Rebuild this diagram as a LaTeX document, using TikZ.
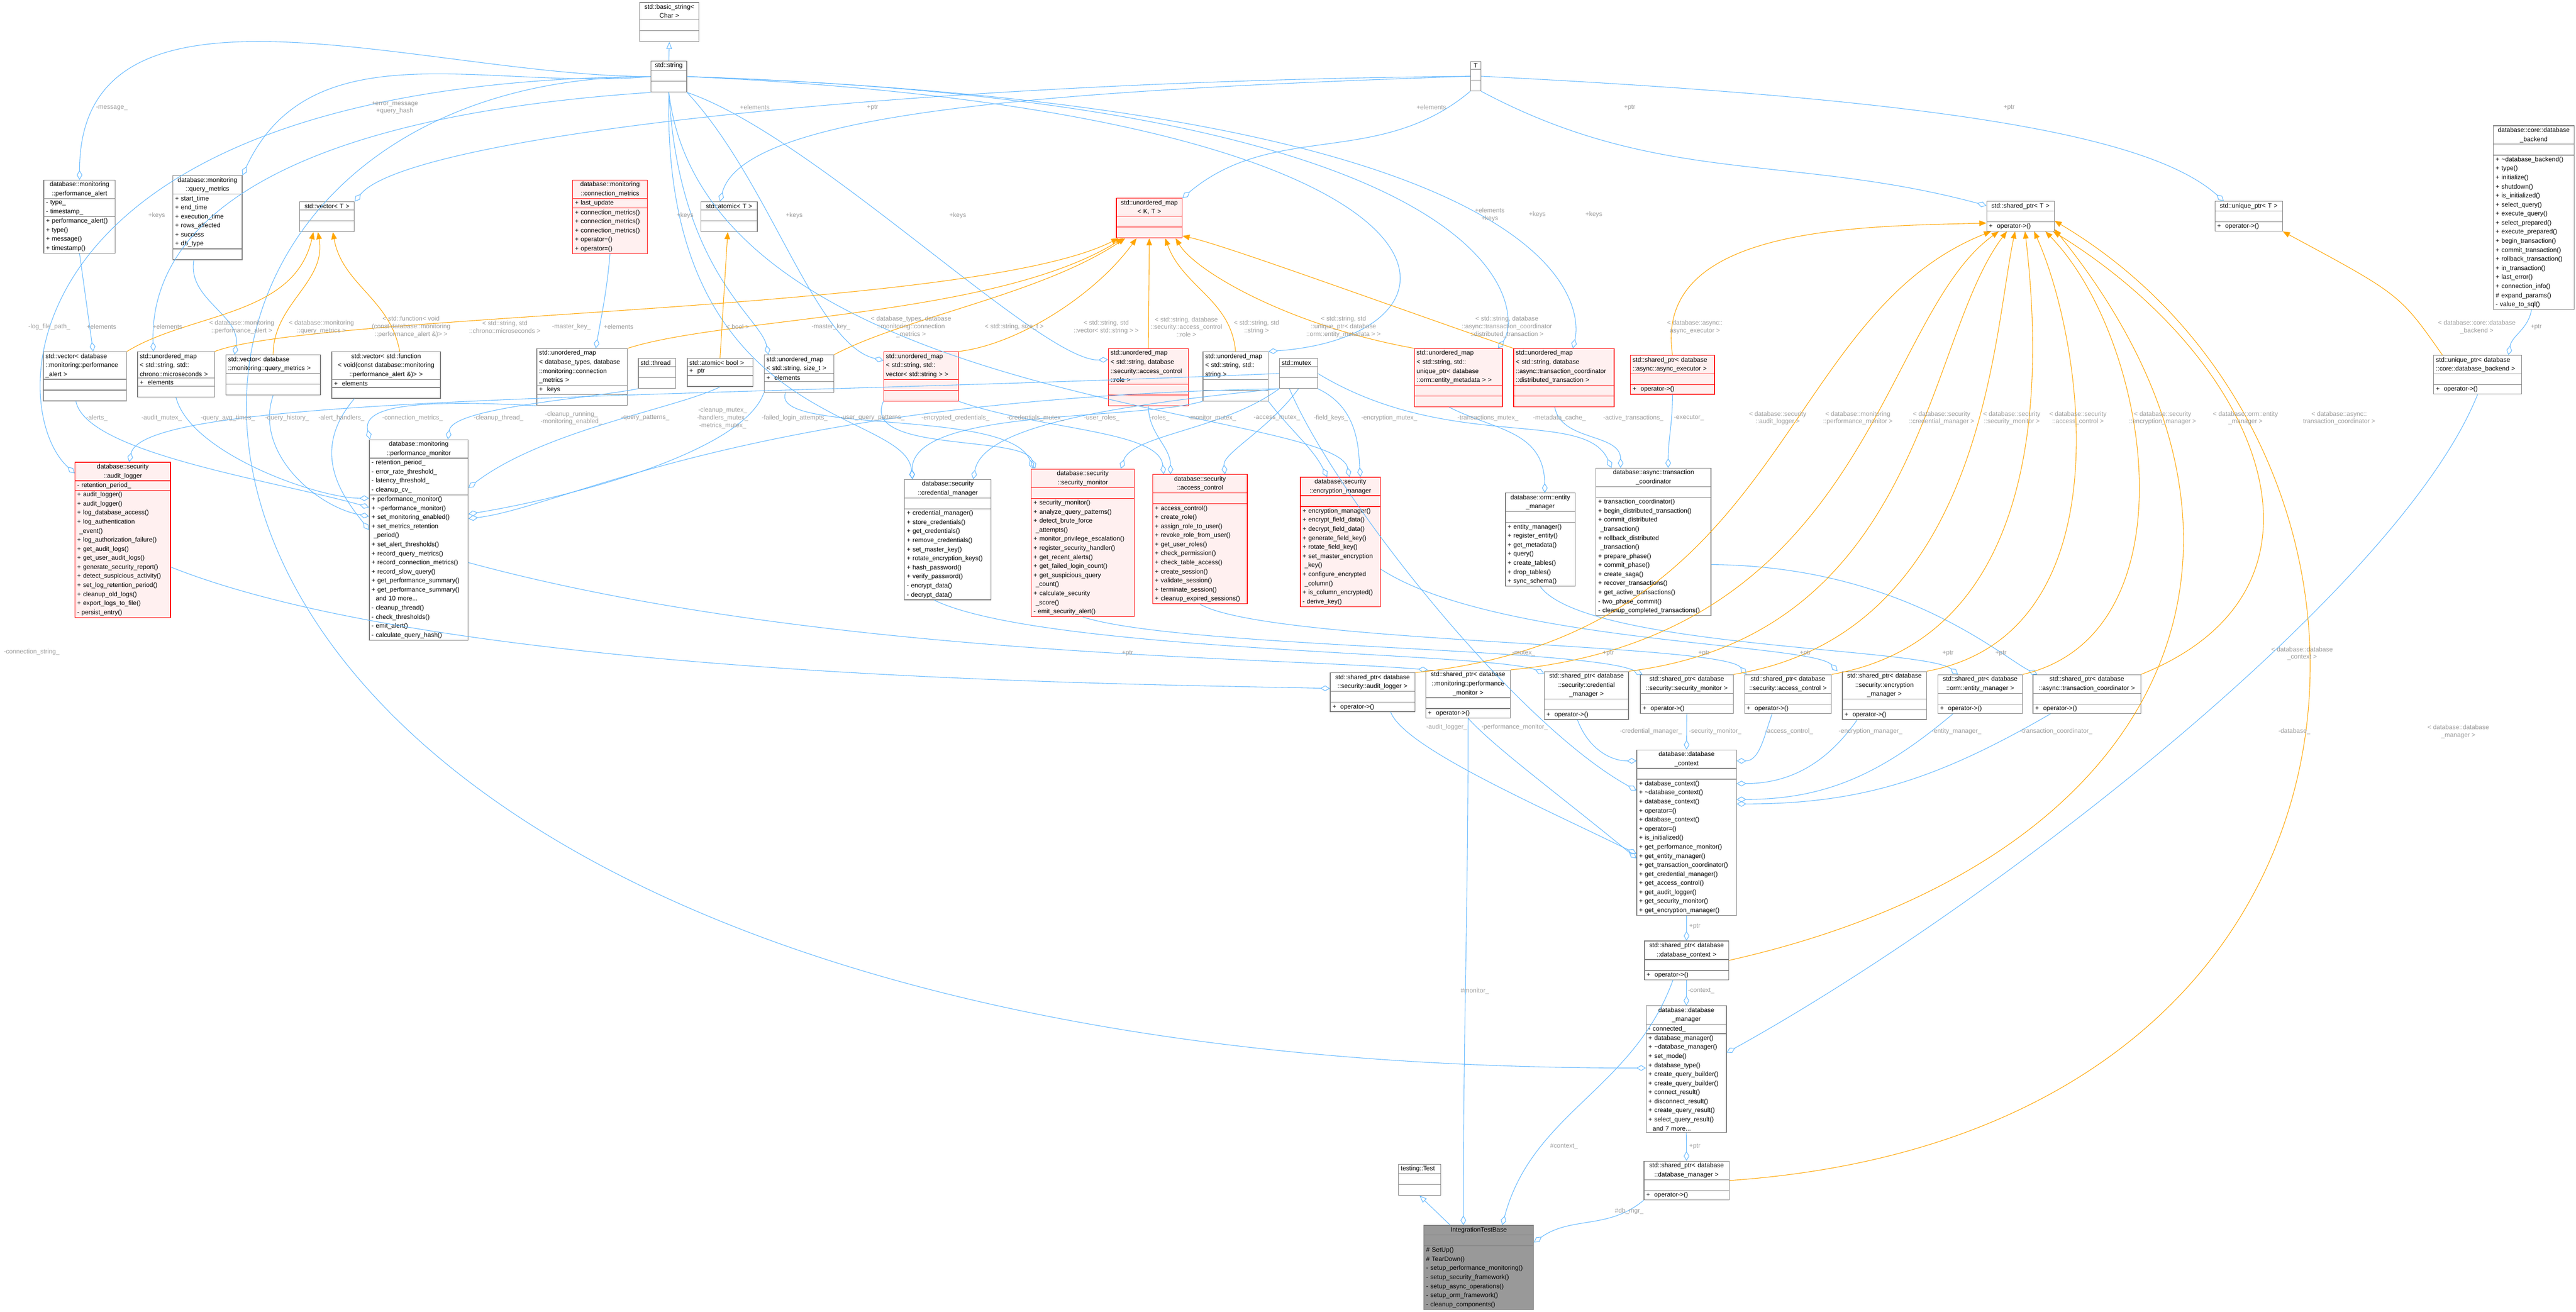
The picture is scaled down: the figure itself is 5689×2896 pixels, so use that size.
\documentclass[tikz,border=0pt]{standalone}
\usepackage{fontspec}
\setmainfont{Liberation Sans}
\usetikzlibrary{shapes.multipart,arrows.meta}
\definecolor{edgeblue}{HTML}{63B8FF}
\definecolor{edgeorange}{HTML}{FFA500}
\definecolor{boxgrey}{HTML}{808080}
\definecolor{lblgrey}{HTML}{9A9A9A}
\definecolor{redfill}{HTML}{FFF0F0}
\newcommand\nil{\rule{0pt}{4.6pt}}
\tikzset{
  cls/.style={rectangle split, rectangle split parts=3, draw=boxgrey, fill=white,
    anchor=north west, inner xsep=1.4pt, inner ysep=0.9pt, line width=0.4pt,
    font=\fontsize{4}{5.69}\selectfont},
  redcls/.style={cls, draw=red, fill=redfill},
  basecls/.style={cls, fill=black!40},
  uses/.style={draw=edgeblue, line width=0.35pt, -{Diamond[open,length=6pt,width=3.5pt]}},
  tmpl/.style={draw=edgeorange, line width=0.35pt, -{Triangle[length=4.5pt,width=3.5pt]}},
  isa/.style={draw=edgeblue, line width=0.35pt, -{Triangle[open,length=4.5pt,width=3.5pt]}},
  lbl/.style={text=lblgrey, font=\fontsize{4}{4.8}\selectfont, align=center, inner sep=0pt},
}
\begin{document}
\begin{tikzpicture}[x=0.01cm, y=0.01cm]
\useasboundingbox (0,0) rectangle (5689,-2896);

% std / template classes
\node[cls, text width=1.21cm] (basicstr) at (1412,-5) {\centering std::basic\_string<\\Char >\par\nodepart{two}\nil\nodepart{three}\nil};
\node[cls, text width=0.69cm] (string) at (1437,-134) {\centering std::string\par\nodepart{two}\nil\nodepart{three}\nil};
\node[cls, text width=0.13cm] (T) at (3247,-135) {\centering T\par\nodepart{two}\nil\nodepart{three}\nil};
\node[cls, text width=1.11cm] (vectorT) at (661,-445) {\centering std::vector< T >\par\nodepart{two}\nil\nodepart{three}\nil};
\node[cls, text width=1.15cm] (atomicT) at (1547,-445) {\centering std::atomic< T >\par\nodepart{two}\nil\nodepart{three}\nil};
\node[redcls, text width=1.35cm] (umapKT) at (2465,-437) {\centering std::unordered\_map\\< K, T >\par\nodepart{two}\nil\nodepart{three}\nil};
\node[cls, text width=1.39cm] (sharedT) at (4387,-444) {\centering std::shared\_ptr< T >\par\nodepart{two}\nil\nodepart{three}+ \ operator->()};
\node[cls, text width=1.39cm] (uniqueT) at (4891,-444) {\centering std::unique\_ptr< T >\par\nodepart{two}\nil\nodepart{three}+ \ operator->()};
\node[cls, text width=1.68cm] (backend) at (5506,-277) {\centering database::core::database\\\_backend\par\nodepart{two}\nil\nodepart{three}+ \textasciitilde database\_backend()\\+ type()\\+ initialize()\\+ shutdown()\\+ is\_initialized()\\+ select\_query()\\+ execute\_query()\\+ select\_prepared()\\+ execute\_prepared()\\+ begin\_transaction()\\+ commit\_transaction()\\+ rollback\_transaction()\\+ in\_transaction()\\+ last\_error()\\+ connection\_info()\\\# expand\_params()\\- value\_to\_sql()};

% monitoring data
\node[cls, text width=1.48cm] (perfalert) at (96,-397) {\centering database::monitoring\\::performance\_alert\par\nodepart{two}- type\_\\- timestamp\_\nodepart{three}+ performance\_alert()\\+ type()\\+ message()\\+ timestamp()};
\node[cls, text width=1.43cm] (qmetrics) at (381,-387) {\centering database::monitoring\\::query\_metrics\par\nodepart{two}+ start\_time\\+ end\_time\\+ execution\_time\\+ rows\_affected\\+ success\\+ db\_type\nodepart{three}\nil};
\node[redcls, text width=1.55cm] (connmetrics) at (1264,-397) {\centering database::monitoring\\::connection\_metrics\par\nodepart{two}+ last\_update\nodepart{three}+ connection\_metrics()\\+ connection\_metrics()\\+ connection\_metrics()\\+ operator=()\\+ operator=()};

% containers
\node[cls, text width=1.74cm] (vecalert) at (95,-776) {std::vector< database\\::monitoring::performance\\\_alert >\nodepart{two}\nil\nodepart{three}\nil};
\node[cls, text width=1.60cm] (umapchrono) at (303,-776) {std::unordered\_map\\< std::string, std::\\chrono::microseconds >\nodepart{two}+ \ elements\nodepart{three}\nil};
\node[cls, text width=1.99cm] (vecqm) at (498,-783) {std::vector< database\\::monitoring::query\_metrics >\nodepart{two}\nil\nodepart{three}\nil};
\node[cls, text width=2.30cm] (vecfunc) at (732,-776) {\centering std::vector< std::function\\< void(const database::monitoring\\::performance\_alert \&)> >\par\nodepart{two}+ \ elements\nodepart{three}\nil};
\node[cls, text width=1.90cm] (umapconn) at (1185,-769) {std::unordered\_map\\< database\_types, database\\::monitoring::connection\\\_metrics >\nodepart{two}+ \ keys\nodepart{three}\nil};
\node[cls, text width=0.73cm] (thread) at (1409,-791) {std::thread\nodepart{two}\nil\nodepart{three}\nil};
\node[cls, text width=1.35cm] (atomicbool) at (1517,-791) {std::atomic< bool >\nodepart{two}+ \ ptr\nodepart{three}\nil};
\node[cls, text width=1.44cm] (umapsize) at (1687,-783) {std::unordered\_map\\< std::string, size\_t >\nodepart{two}+ \ elements\nodepart{three}\nil};
\node[redcls, text width=1.55cm] (umapvec) at (1951,-776) {std::unordered\_map\\< std::string, std::\\vector< std::string > >\nodepart{two}\nil\nodepart{three}\nil};
\node[redcls, text width=1.67cm] (umaprole) at (2447,-769) {std::unordered\_map\\< std::string, database\\::security::access\_control\\::role >\nodepart{two}\nil\nodepart{three}\nil};
\node[cls, text width=1.34cm] (umapstr) at (2656,-776) {std::unordered\_map\\< std::string, std::\\string >\nodepart{two}\nil\nodepart{three}\nil};
\node[cls, text width=0.74cm] (mutex) at (2825,-791) {std::mutex\nodepart{two}\nil\nodepart{three}\nil};
\node[redcls, text width=1.84cm] (umapentity) at (3123,-769) {std::unordered\_map\\< std::string, std::\\unique\_ptr< database\\::orm::entity\_metadata > >\nodepart{two}\nil\nodepart{three}\nil};
\node[redcls, text width=2.12cm] (umapdist) at (3342,-769) {std::unordered\_map\\< std::string, database\\::async::transaction\_coordinator\\::distributed\_transaction >\nodepart{two}\nil\nodepart{three}\nil};
\node[redcls, text width=1.76cm] (spexec) at (3600,-784) {std::shared\_ptr< database\\::async::async\_executor >\nodepart{two}\nil\nodepart{three}+ \ operator->()};
\node[cls, text width=1.84cm] (upbackend) at (5374,-784) {std::unique\_ptr< database\\::core::database\_backend >\nodepart{two}\nil\nodepart{three}+ \ operator->()};

% components
\node[redcls, text width=2.01cm] (auditlog) at (165,-1020) {\centering database::security\\::audit\_logger\par\nodepart{two}- retention\_period\_\nodepart{three}+ audit\_logger()\\+ audit\_logger()\\+ log\_database\_access()\\+ log\_authentication\\\ \_event()\\+ log\_authorization\_failure()\\+ get\_audit\_logs()\\+ get\_user\_audit\_logs()\\+ generate\_security\_report()\\+ detect\_suspicious\_activity()\\+ set\_log\_retention\_period()\\+ cleanup\_old\_logs()\\+ export\_logs\_to\_file()\\- persist\_entry()};
\node[cls, text width=2.08cm] (perfmon) at (815,-970) {\centering database::monitoring\\::performance\_monitor\par\nodepart{two}- retention\_period\_\\- error\_rate\_threshold\_\\- latency\_threshold\_\\- cleanup\_cv\_\nodepart{three}+ performance\_monitor()\\+ \textasciitilde performance\_monitor()\\+ set\_monitoring\_enabled()\\+ set\_metrics\_retention\\\ \_period()\\+ set\_alert\_thresholds()\\+ record\_query\_metrics()\\+ record\_connection\_metrics()\\+ record\_slow\_query()\\+ get\_performance\_summary()\\+ get\_performance\_summary()\\\ \ and 10 more...\\- cleanup\_thread()\\- check\_thresholds()\\- emit\_alert()\\- calculate\_query\_hash()};
\node[cls, text width=1.81cm] (credmgr) at (1997,-1058) {\centering database::security\\::credential\_manager\par\nodepart{two}\nil\nodepart{three}+ credential\_manager()\\+ store\_credentials()\\+ get\_credentials()\\+ remove\_credentials()\\+ set\_master\_key()\\+ rotate\_encryption\_keys()\\+ hash\_password()\\+ verify\_password()\\- encrypt\_data()\\- decrypt\_data()};
\node[redcls, text width=2.17cm] (secmon) at (2277,-1035) {\centering database::security\\::security\_monitor\par\nodepart{two}\nil\nodepart{three}+ security\_monitor()\\+ analyze\_query\_patterns()\\+ detect\_brute\_force\\\ \_attempts()\\+ monitor\_privilege\_escalation()\\+ register\_security\_handler()\\+ get\_recent\_alerts()\\+ get\_failed\_login\_count()\\+ get\_suspicious\_query\\\ \_count()\\+ calculate\_security\\\ \_score()\\- emit\_security\_alert()};
\node[redcls, text width=1.99cm] (acl) at (2545,-1047) {\centering database::security\\::access\_control\par\nodepart{two}\nil\nodepart{three}+ access\_control()\\+ create\_role()\\+ assign\_role\_to\_user()\\+ revoke\_role\_from\_user()\\+ get\_user\_roles()\\+ check\_permission()\\+ check\_table\_access()\\+ create\_session()\\+ validate\_session()\\+ terminate\_session()\\+ cleanup\_expired\_sessions()};
\node[redcls, text width=1.67cm] (encmgr) at (2871,-1053) {\centering database::security\\::encryption\_manager\par\nodepart{two}\nil\nodepart{three}+ encryption\_manager()\\+ encrypt\_field\_data()\\+ decrypt\_field\_data()\\+ generate\_field\_key()\\+ rotate\_field\_key()\\+ set\_master\_encryption\\\ \_key()\\+ configure\_encrypted\\\ \_column()\\+ is\_column\_encrypted()\\- derive\_key()};
\node[cls, text width=1.44cm] (entmgr) at (3324,-1088) {\centering database::orm::entity\\\_manager\par\nodepart{two}\nil\nodepart{three}+ entity\_manager()\\+ register\_entity()\\+ get\_metadata()\\+ query()\\+ create\_tables()\\+ drop\_tables()\\+ sync\_schema()};
\node[cls, text width=2.44cm] (txcoord) at (3524,-1033) {\centering database::async::transaction\\\_coordinator\par\nodepart{two}\nil\nodepart{three}+ transaction\_coordinator()\\+ begin\_distributed\_transaction()\\+ commit\_distributed\\\ \_transaction()\\+ rollback\_distributed\\\ \_transaction()\\+ prepare\_phase()\\+ commit\_phase()\\+ create\_saga()\\+ recover\_transactions()\\+ get\_active\_transactions()\\- two\_phase\_commit()\\- cleanup\_completed\_transactions()};

% shared pointers
\node[cls, text width=1.77cm] (spaudit) at (2937,-1485) {\centering std::shared\_ptr< database\\::security::audit\_logger >\par\nodepart{two}\nil\nodepart{three}+ \ operator->()};
\node[cls, text width=1.77cm] (spperf) at (3148,-1479) {\centering std::shared\_ptr< database\\::monitoring::performance\\\_monitor >\par\nodepart{two}\nil\nodepart{three}+ \ operator->()};
\node[cls, text width=1.76cm] (spcred) at (3410,-1482) {\centering std::shared\_ptr< database\\::security::credential\\\_manager >\par\nodepart{two}\nil\nodepart{three}+ \ operator->()};
\node[cls, text width=1.95cm] (spsecmon) at (3622,-1489) {\centering std::shared\_ptr< database\\::security::security\_monitor >\par\nodepart{two}\nil\nodepart{three}+ \ operator->()};
\node[cls, text width=1.82cm] (spacl) at (3852,-1489) {\centering std::shared\_ptr< database\\::security::access\_control >\par\nodepart{two}\nil\nodepart{three}+ \ operator->()};
\node[cls, text width=1.76cm] (spenc) at (4068,-1482) {\centering std::shared\_ptr< database\\::security::encryption\\\_manager >\par\nodepart{two}\nil\nodepart{three}+ \ operator->()};
\node[cls, text width=1.77cm] (spent) at (4279,-1489) {\centering std::shared\_ptr< database\\::orm::entity\_manager >\par\nodepart{two}\nil\nodepart{three}+ \ operator->()};
\node[cls, text width=2.28cm] (sptx) at (4489,-1489) {\centering std::shared\_ptr< database\\::async::transaction\_coordinator >\par\nodepart{two}\nil\nodepart{three}+ \ operator->()};

% context / manager / test
\node[cls, text width=2.10cm] (dbctx) at (3614,-1655) {\centering database::database\\\_context\par\nodepart{two}\nil\nodepart{three}+ database\_context()\\+ \textasciitilde database\_context()\\+ database\_context()\\+ operator=()\\+ database\_context()\\+ operator=()\\+ is\_initialized()\\+ get\_performance\_monitor()\\+ get\_entity\_manager()\\+ get\_transaction\_coordinator()\\+ get\_credential\_manager()\\+ get\_access\_control()\\+ get\_audit\_logger()\\+ get\_security\_monitor()\\+ get\_encryption\_manager()};
\node[cls, text width=1.76cm] (spctx) at (3631,-2077) {\centering std::shared\_ptr< database\\::database\_context >\par\nodepart{two}\nil\nodepart{three}+ \ operator->()};
\node[cls, text width=1.67cm] (dbmgr) at (3635,-2220) {\centering database::database\\\_manager\par\nodepart{two}- connected\_\nodepart{three}+ database\_manager()\\+ \textasciitilde database\_manager()\\+ set\_mode()\\+ database\_type()\\+ create\_query\_builder()\\+ create\_query\_builder()\\+ connect\_result()\\+ disconnect\_result()\\+ create\_query\_result()\\+ select\_query\_result()\\\ \ and 7 more...};
\node[cls, text width=1.78cm] (spdbmgr) at (3630,-2563) {\centering std::shared\_ptr< database\\::database\_manager >\par\nodepart{two}\nil\nodepart{three}+ \ operator->()};
\node[cls, text width=0.83cm] (test) at (3088,-2570) {testing::Test\nodepart{two}\nil\nodepart{three}\nil};
\node[basecls, text width=2.32cm] (itb) at (3144,-2705) {\centering IntegrationTestBase\par\nodepart{two}\nil\nodepart{three}\# SetUp()\\\# TearDown()\\- setup\_performance\_monitoring()\\- setup\_security\_framework()\\- setup\_async\_operations()\\- setup\_orm\_framework()\\- cleanup\_components()};

% inheritance
\draw[isa] (string.north) -- (basicstr.south);
\draw[isa] ([xshift=-0.63cm]itb.north) -- (test.south);

% members
\draw[uses] (string.west) to[out=180,in=90] (perfalert.north);
\draw[uses] (string.west) to[out=185,in=65] (qmetrics.north east);
\draw[uses] (string.west) .. controls (5,-180) and (5,-900) .. ([yshift=-0.25cm]auditlog.north west);
\draw[uses] (string.west) .. controls (5,-170) and (5,-2360) .. ([yshift=-1.38cm]dbmgr.north west);
\draw[uses] (string.south west) .. controls (600,-260) and (330,-500) .. ([xshift=-0.5cm]umapchrono.north);
\draw[uses] (string.south) .. controls (1500,-600) and (1680,-700) .. ([xshift=0.1cm]umapsize.north west);
\draw[uses] (string.south east) .. controls (1800,-300) and (2300,-800) .. ([yshift=-0.25cm]umaprole.north west);
\draw[uses] (string.south east) .. controls (1700,-400) and (1800,-760) .. ([yshift=-0.2cm]umapvec.north west);
\draw[uses] (string.east) .. controls (3300,-250) and (3300,-740) .. (umapstr.north east);
\draw[uses] (string.east) .. controls (3380,-230) and (3360,-700) .. ([xshift=-0.1cm]umapentity.north east);
\draw[uses] (string.east) .. controls (3530,-240) and (3490,-700) .. ([xshift=0.2cm]umapdist.north);
\draw[uses] (string.south) .. controls (1460,-950) and (2000,-900) .. ([xshift=0.18cm]credmgr.north west);
\draw[uses] (string.south) .. controls (1560,-900) and (2950,-900) .. ([xshift=0.2cm]encmgr.north);
\draw[uses] (T.west) .. controls (2000,-180) and (900,-300) .. (vectorT.north east);
\draw[uses] (T.west) .. controls (2300,-200) and (1640,-250) .. ([xshift=-0.2cm]atomicT.north);
\draw[uses] (T.south west) to[out=-140,in=40] (umapKT.north east);
\draw[uses] (T.south east) to[out=-28,in=165] ([yshift=-0.1cm]sharedT.north west);
\draw[uses] (T.east) .. controls (4300,-220) and (4750,-300) .. ([xshift=-0.55cm]uniqueT.north);
\draw[uses] (perfalert.south) -- ([xshift=0.18cm]vecalert.north);
\draw[uses] ([xshift=-0.3cm]qmetrics.south) to[out=-100,in=80] ([xshift=0.2cm]vecqm.north west);
\draw[uses] (connmetrics.south) to[out=-95,in=80] ([xshift=0.3cm]umapconn.north);
\draw[uses] ([xshift=-0.2cm]vecalert.south) .. controls (190,-1000) and (600,-1060) .. ([yshift=-1.5cm]perfmon.north west);
\draw[uses] (umapchrono.south) .. controls (420,-1000) and (700,-1100) .. ([yshift=-1.3cm]perfmon.north west);
\draw[uses] (vecqm.south) .. controls (560,-1000) and (700,-1120) .. ([yshift=-1.7cm]perfmon.north west);
\draw[uses] ([xshift=-0.7cm]vecfunc.south) .. controls (680,-1000) and (760,-1100) .. ([yshift=-2.0cm]perfmon.north west);
\draw[uses] (umapconn.south west) .. controls (900,-880) and (800,-900) .. ([xshift=0.02cm]perfmon.north west);
\draw[uses] (thread.south west) .. controls (1300,-880) and (1000,-900) .. ([xshift=1.74cm]perfmon.north west);
\draw[uses] (atomicbool.south) .. controls (1500,-900) and (1200,-950) .. ([yshift=-1.07cm]perfmon.north east);
\draw[uses] (umapsize.south west) .. controls (1640,-1000) and (1250,-1100) .. ([yshift=-1.65cm]perfmon.north east);
\draw[uses] (mutex.south west) .. controls (1650,-880) and (1250,-1120) .. ([yshift=-1.75cm]perfmon.north east);
\draw[uses] (mutex.west) .. controls (1500,-880) and (320,-870) .. ([xshift=1.2cm]auditlog.north west);
\draw[uses] ([xshift=-0.3cm]umapsize.south) .. controls (1700,-960) and (2230,-900) .. ([xshift=0.05cm]secmon.north west);
\draw[uses] (umapvec.south west) .. controls (1900,-1000) and (2260,-960) .. ([xshift=0.09cm]secmon.north west);
\draw[uses] (umapstr.south west) .. controls (2500,-930) and (2010,-900) .. ([xshift=0.18cm]credmgr.north west);
\draw[uses] (mutex.south west) .. controls (2400,-900) and (2170,-950) .. ([xshift=-0.4cm]credmgr.north east);
\draw[uses] (umapvec.south east) .. controls (2300,-950) and (2560,-950) .. ([xshift=0.25cm]acl.north west);
\draw[uses] (umaprole.south) to[out=-90,in=90] ([xshift=0.4cm]acl.north west);
\draw[uses] (mutex.south west) .. controls (2700,-950) and (2500,-960) .. ([xshift=-0.3cm]secmon.north east);
\draw[uses] (mutex.south) .. controls (2800,-950) and (2700,-1000) .. ([xshift=-0.5cm]acl.north east);
\draw[uses] (umapstr.south east) .. controls (2850,-950) and (2900,-990) .. ([xshift=0.6cm]encmgr.north west);
\draw[uses] (mutex.south east) .. controls (3000,-900) and (3000,-990) .. ([xshift=-0.45cm]encmgr.north east);
\draw[uses] (mutex.east) .. controls (3200,-1000) and (3500,-900) .. ([xshift=0.35cm]txcoord.north west);
\draw[uses] ([xshift=-0.2cm]umapentity.south) .. controls (3300,-950) and (3410,-950) .. ([xshift=0.1cm]entmgr.north);
\draw[uses] ([xshift=-0.2cm]umapdist.south) to[out=-80,in=90] ([xshift=0.55cm]txcoord.north west);
\draw[uses] (spexec.south) to[out=-90,in=90] ([xshift=1.6cm]txcoord.north west);
\draw[uses] ([yshift=-0.6cm]auditlog.east) .. controls (1000,-1500) and (2500,-1510) .. ([yshift=-0.35cm]spaudit.north west);
\draw[uses] ([yshift=-0.5cm]perfmon.east) .. controls (1800,-1450) and (2800,-1450) .. ([xshift=0.05cm]spperf.north west);
\draw[uses] ([xshift=-0.3cm]credmgr.south) .. controls (2300,-1440) and (3300,-1440) .. ([yshift=-0.05cm]spcred.north west);
\draw[uses] (secmon.south) .. controls (2600,-1430) and (3500,-1430) .. ([xshift=0.05cm]spsecmon.north west);
\draw[uses] (acl.south) .. controls (2800,-1420) and (3800,-1420) .. ([xshift=0.05cm]spacl.north west);
\draw[uses] ([yshift=-0.6cm]encmgr.east) .. controls (3300,-1420) and (4000,-1420) .. ([xshift=-0.1cm]spenc.north west);
\draw[uses] (entmgr.south) .. controls (3500,-1430) and (4250,-1430) .. ([xshift=0.45cm]spent.north west);
\draw[uses] ([yshift=-0.5cm]txcoord.east) .. controls (4200,-1250) and (4420,-1450) .. ([xshift=0.1cm]sptx.north west);
\draw[uses] ([xshift=-0.2cm]mutex.south) .. controls (2950,-1100) and (3350,-1600) .. ([yshift=-0.9cm]dbctx.north west);
\draw[uses] ([xshift=0.4cm]spaudit.south) .. controls (3100,-1650) and (3400,-1780) .. ([yshift=-2.3cm]dbctx.north west);
\draw[uses] (spperf.south) .. controls (3300,-1650) and (3450,-1760) .. ([yshift=-2.4cm]dbctx.north west);
\draw[uses] ([xshift=-0.2cm]spcred.south) to[out=-70,in=180] ([yshift=-0.25cm]dbctx.north west);
\draw[uses] (spsecmon.south) -- (dbctx.north);
\draw[uses] ([xshift=-0.35cm]spacl.south) to[out=-110,in=0] ([yshift=-0.25cm]dbctx.north east);
\draw[uses] ([xshift=-0.6cm]spenc.south) to[out=-125,in=0] ([yshift=-0.75cm]dbctx.north east);
\draw[uses] ([xshift=-0.6cm]spent.south) to[out=-140,in=0] ([yshift=-1.1cm]dbctx.north east);
\draw[uses] ([xshift=-0.8cm]sptx.south) to[out=-150,in=0] ([yshift=-1.2cm]dbctx.north east);
\draw[uses] (dbctx.south) -- (spctx.north);
\draw[uses] (spctx.south) -- (dbmgr.north);
\draw[uses] (dbmgr.south) -- (spdbmgr.north);
\draw[uses] (spperf.south) to[out=-90,in=90] ([xshift=-0.34cm]itb.north);
\draw[uses] ([xshift=-0.3cm]spctx.south) to[out=-110,in=75] ([xshift=0.52cm]itb.north);
\draw[uses] (spdbmgr.south west) to[out=-140,in=35] ([yshift=-0.38cm]itb.north east);
\draw[uses] ([xshift=-0.05cm]backend.south) to[out=-100,in=80] ([xshift=0.68cm]upbackend.north);
\draw[uses] (upbackend.south) .. controls (5300,-1300) and (4400,-2000) .. ([yshift=-1.04cm]dbmgr.north east);

% template instances
\draw[tmpl] (vecalert.north east) .. controls (420,-690) and (650,-700) .. ([xshift=-0.3cm]vectorT.south);
\draw[tmpl] (vecqm.north) to[out=90,in=-80] ([xshift=-0.2cm]vectorT.south);
\draw[tmpl] ([xshift=0.3cm]vecfunc.north) to[out=100,in=-80] ([xshift=0.13cm]vectorT.south);
\draw[tmpl] (atomicbool.north) -- ([xshift=-0.03cm]atomicT.south);
\draw[tmpl] (umapchrono.north east) .. controls (700,-690) and (2150,-690) .. ([xshift=0.05cm]umapKT.south west);
\draw[tmpl] (umapconn.north east) .. controls (1600,-700) and (2200,-700) .. ([xshift=0.15cm]umapKT.south west);
\draw[tmpl] (umapsize.north east) .. controls (2000,-700) and (2300,-650) .. ([xshift=0.2cm]umapKT.south west);
\draw[tmpl] (umapvec.north east) .. controls (2250,-760) and (2420,-650) .. ([xshift=0.45cm]umapKT.south west);
\draw[tmpl] (umaprole.north) -- (umapKT.south);
\draw[tmpl] (umapstr.north) to[out=95,in=-70] ([xshift=0.35cm]umapKT.south);
\draw[tmpl] (umapentity.north west) .. controls (2850,-720) and (2640,-600) .. ([xshift=-0.15cm]umapKT.south east);
\draw[tmpl] (umapdist.north west) .. controls (3000,-650) and (2700,-540) .. ([yshift=0.05cm]umapKT.south east);
\draw[tmpl] (spexec.north) .. controls (3650,-500) and (4100,-500) .. ([yshift=-0.15cm]sharedT.west);
\draw[tmpl] (spaudit.north east) .. controls (3950,-1400) and (3920,-700) .. ([xshift=-0.65cm]sharedT.south);
\draw[tmpl] (spperf.north east) .. controls (4130,-1400) and (4150,-700) .. ([xshift=-0.48cm]sharedT.south);
\draw[tmpl] (spcred.north east) .. controls (4250,-1400) and (4250,-750) .. ([xshift=-0.3cm]sharedT.south);
\draw[tmpl] (spsecmon.north east) .. controls (4380,-1400) and (4400,-750) .. ([xshift=-0.12cm]sharedT.south);
\draw[tmpl] (spacl.north east) .. controls (4550,-1400) and (4500,-750) .. ([xshift=0.1cm]sharedT.south);
\draw[tmpl] (spenc.north east) .. controls (4700,-1400) and (4600,-750) .. ([xshift=0.3cm]sharedT.south);
\draw[tmpl] (spent.north east) .. controls (4850,-1400) and (4750,-750) .. ([xshift=0.55cm]sharedT.south);
\draw[tmpl] (sptx.north east) .. controls (5200,-1300) and (5000,-800) .. ([xshift=0.72cm]sharedT.south);
\draw[tmpl] (spctx.east) .. controls (4800,-1900) and (5100,-1200) .. ([yshift=0.05cm]sharedT.south east);
\draw[tmpl] (spdbmgr.east) .. controls (5350,-2500) and (5400,-1000) .. ([yshift=-0.1cm]sharedT.east);
\draw[tmpl] ([xshift=0.2cm]upbackend.north west) .. controls (5300,-650) .. (uniqueT.south east);

% edge labels
\foreach \lx/\ly/\lt [count=\i] in {
  247/238/{-message\_}, 872/238/{+error\_message\\+query\_hash}, 346/476/{+keys},
  1667/237/{+elements}, 1927/237/{+ptr}, 1513/476/{+keys}, 1754/476/{+keys}, 2115/476/{+keys},
  3161/237/{+elements}, 3599/237/{+ptr}, 3290/474/{+elements\\+keys}, 3395/474/{+keys},
  3520/474/{+keys}, 4437/237/{+ptr},
  109/722/{-log\_file\_path\_}, 224/722/{+elements}, 370/722/{+elements},
  534/722/{< database::monitoring\\::performance\_alert >},
  710/722/{< database::monitoring\\::query\_metrics >},
  908/722/{< std::function< void\\(const database::monitoring\\::performance\_alert \&)> >},
  1115/722/{< std::string, std\\::chrono::microseconds >}, 1262/722/{-master\_key\_},
  1366/722/{+elements}, 1629/722/{< bool >}, 1835/722/{-master\_key\_},
  2012/722/{< database\_types, database\\::monitoring::connection\\\_metrics >},
  2240/722/{< std::string, size\_t >}, 2443/722/{< std::string, std\\::vector< std::string > >},
  2620/722/{< std::string, database\\::security::access\_control\\::role >},
  2775/722/{< std::string, std\\::string >},
  2967/722/{< std::string, std\\::unique\_ptr< database\\::orm::entity\_metadata > >},
  3328/722/{< std::string, database\\::async::transaction\_coordinator\\::distributed\_transaction >},
  3743/722/{< database::async::\\async\_executor >},
  5470/722/{< database::core::database\\\_backend >}, 5601/722/{+ptr},
  214/923/{-alerts\_}, 357/923/{-audit\_mutex\_}, 503/923/{-query\_avg\_times\_},
  634/923/{-query\_history\_}, 754/923/{-alert\_handlers\_}, 911/923/{-connection\_metrics\_},
  1101/923/{-cleanup\_thread\_}, 1262/923/{-cleanup\_running\_\\-monitoring\_enabled\_},
  1425/923/{-query\_patterns\_}, 1596/923/{-cleanup\_mutex\_\\-handlers\_mutex\_\\-metrics\_mutex\_},
  1755/923/{-failed\_login\_attempts\_}, 1927/923/{-user\_query\_patterns\_},
  2110/923/{-encrypted\_credentials\_}, 2287/923/{-credentials\_mutex\_}, 2433/923/{-user\_roles\_},
  2561/923/{-roles\_}, 2677/923/{-monitor\_mutex\_}, 2820/923/{-access\_mutex\_},
  2939/923/{-field\_keys\_}, 3068/923/{-encryption\_mutex\_}, 3286/923/{-transactions\_mutex\_},
  3444/923/{-metadata\_cache\_}, 3607/923/{-active\_transactions\_}, 3730/923/{-executor\_},
  3926/923/{< database::security\\::audit\_logger >},
  4103/923/{< database::monitoring\\::performance\_monitor >},
  4288/923/{< database::security\\::credential\_manager >},
  4443/923/{< database::security\\::security\_monitor >},
  4589/923/{< database::security\\::access\_control >},
  4776/923/{< database::security\\::encryption\_manager >},
  4959/923/{< database::orm::entity\\\_manager >},
  5166/923/{< database::async::\\transaction\_coordinator >},
  70/1440/{-connection\_string\_}, 2490/1442/{+ptr}, 3365/1442/{-mutex\_}, 3552/1442/{+ptr},
  3763/1442/{+ptr}, 3987/1443/{+ptr}, 4302/1443/{+ptr}, 4419/1443/{+ptr},
  5084/1443/{< database::database\\\_context >},
  3195/1606/{-audit\_logger\_}, 3345/1606/{-performance\_monitor\_},
  3646/1615/{-credential\_manager\_}, 3788/1615/{-security\_monitor\_},
  3951/1615/{-access\_control\_}, 4131/1615/{-encryption\_manager\_},
  4321/1615/{-entity\_manager\_}, 4541/1615/{-transaction\_coordinator\_},
  5067/1615/{-database\_}, 5429/1615/{< database::database\\\_manager >},
  3743/2045/{+ptr}, 3257/2188/{\#monitor\_}, 3757/2188/{-context\_},
  3454/2531/{\#context\_}, 3743/2531/{+ptr}, 3598/2674/{\#db\_mgr\_}}
  \node[lbl] (lab\i) at (\lx,-\ly) {\lt};

\end{tikzpicture}
\end{document}
